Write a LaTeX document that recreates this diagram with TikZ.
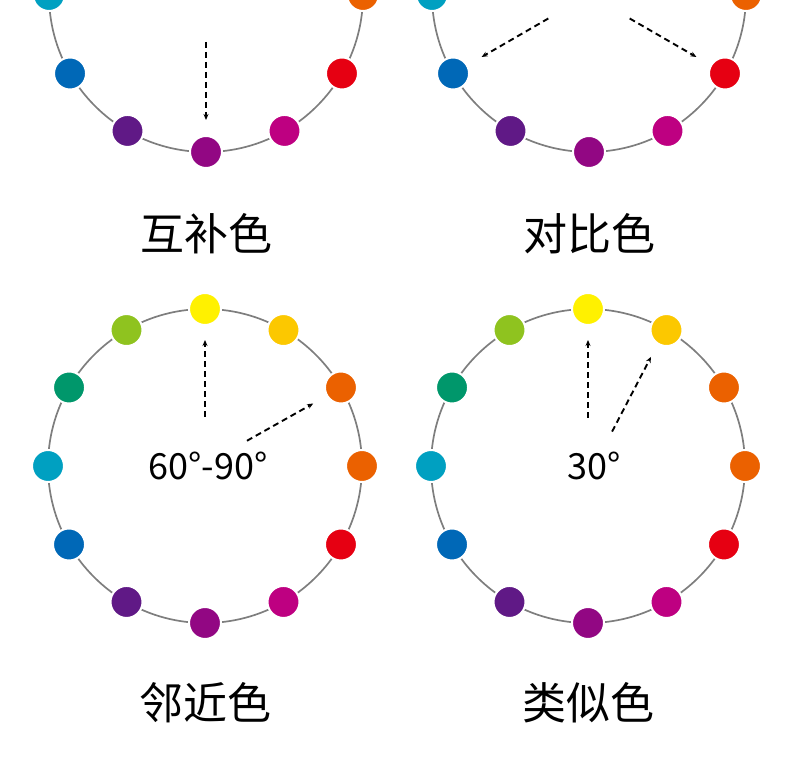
\documentclass[tikz,border=0pt]{standalone}
\usepackage{fontspec}
\newfontfamily\cjk{Noto Sans CJK SC}
\usetikzlibrary{calc, arrows.meta}

\definecolor{hueYellow}{HTML}{FFF100}
\definecolor{hueAmber}{HTML}{FCC800}
\definecolor{hueOrangeA}{HTML}{EB6100}
\definecolor{hueOrangeB}{HTML}{EB6100}
\definecolor{hueRed}{HTML}{E60012}
\definecolor{hueMagenta}{HTML}{BE0081}
\definecolor{huePurple}{HTML}{920783}
\definecolor{hueViolet}{HTML}{601986}
\definecolor{hueBlue}{HTML}{0068B7}
\definecolor{hueCyan}{HTML}{00A0C1}
\definecolor{hueGreen}{HTML}{00976B}
\definecolor{hueLime}{HTML}{8FC31F}
\definecolor{ringGray}{HTML}{7E7E7E}

\tikzset{
  ring/.style={draw=ringGray, line width=1.7pt},
  hue/.style={circle, fill=#1, draw=white, line width=2pt, minimum size=32pt, inner sep=0pt},
  hint/.style={line width=1.9pt, dash pattern=on 6pt off 4pt, -{Stealth[length=6pt,width=5pt]}},
  degree/.style={font=\cjk\fontsize{36}{36}\selectfont, inner sep=0pt},
  title/.style={font=\cjk\fontsize{44}{44}\selectfont, inner sep=0pt},
}

\begin{document}
\begin{tikzpicture}[x=1pt, y=1pt]
			\useasboundingbox (0,0) rectangle (790,784);
			\clip (0,0) rectangle (790,784);
			% wheel centres
			\coordinate (tl) at (206,789);
			\coordinate (tr) at (589,789);
			\coordinate (bl) at (205,318);
			\coordinate (br) at (588,318);
			% twelve hues on each wheel, clockwise from the top
			\foreach \w in {tl, tr, bl, br} {
				\draw[ring] (\w) circle (157);
				\foreach \c [count=\i from 0] in {hueYellow, hueAmber, hueOrangeA, hueOrangeB, hueRed, hueMagenta, huePurple, hueViolet, hueBlue, hueCyan, hueGreen, hueLime}
					\node[hue=\c] (\w-\i) at ($(\w)+(90-30*\i:157)$) {};
			}
			% complementary
			\coordinate (tl-from) at ($(tl)+(-90:47)$);
			\coordinate (tl-to) at ($(tl)+(-90:125)$);
			\draw[hint] (tl-from) -- (tl-to);
			\node[title] (tl-name) at (206,550) {互补色};
			% contrasting
			\coordinate (tr-from1) at ($(tr)+(-150:47)$);
			\coordinate (tr-to1) at ($(tr)+(-150:124)$);
			\coordinate (tr-from2) at ($(tr)+(-30:47)$);
			\coordinate (tr-to2) at ($(tr)+(-30:124)$);
			\draw[hint] (tr-from1) -- (tr-to1);
			\draw[hint] (tr-from2) -- (tr-to2);
			\node[title] (tr-name) at (589,550) {对比色};
			% neighbouring
			\coordinate (bl-from1) at ($(bl)+(90:49)$);
			\coordinate (bl-to1) at ($(bl)+(90:126)$);
			\coordinate (bl-from2) at ($(bl)+(31:49)$);
			\coordinate (bl-to2) at ($(bl)+(30:125)$);
			\draw[hint] (bl-from1) -- (bl-to1);
			\draw[hint] (bl-from2) -- (bl-to2);
			\node[degree] (bl-deg) at (208,318) {60°-90°};
			\node[title] (bl-name) at (205,81) {邻近色};
			% analogous
			\coordinate (br-from1) at ($(br)+(90:48)$);
			\coordinate (br-to1) at ($(br)+(90:126)$);
			\coordinate (br-from2) at ($(br)+(55:42)$);
			\coordinate (br-to2) at ($(br)+(60:126)$);
			\draw[hint] (br-from1) -- (br-to1);
			\draw[hint] (br-from2) -- (br-to2);
			\node[degree] (br-deg) at (594,318) {30°};
			\node[title] (br-name) at (588,81) {类似色};
		\end{tikzpicture}
\end{document}
